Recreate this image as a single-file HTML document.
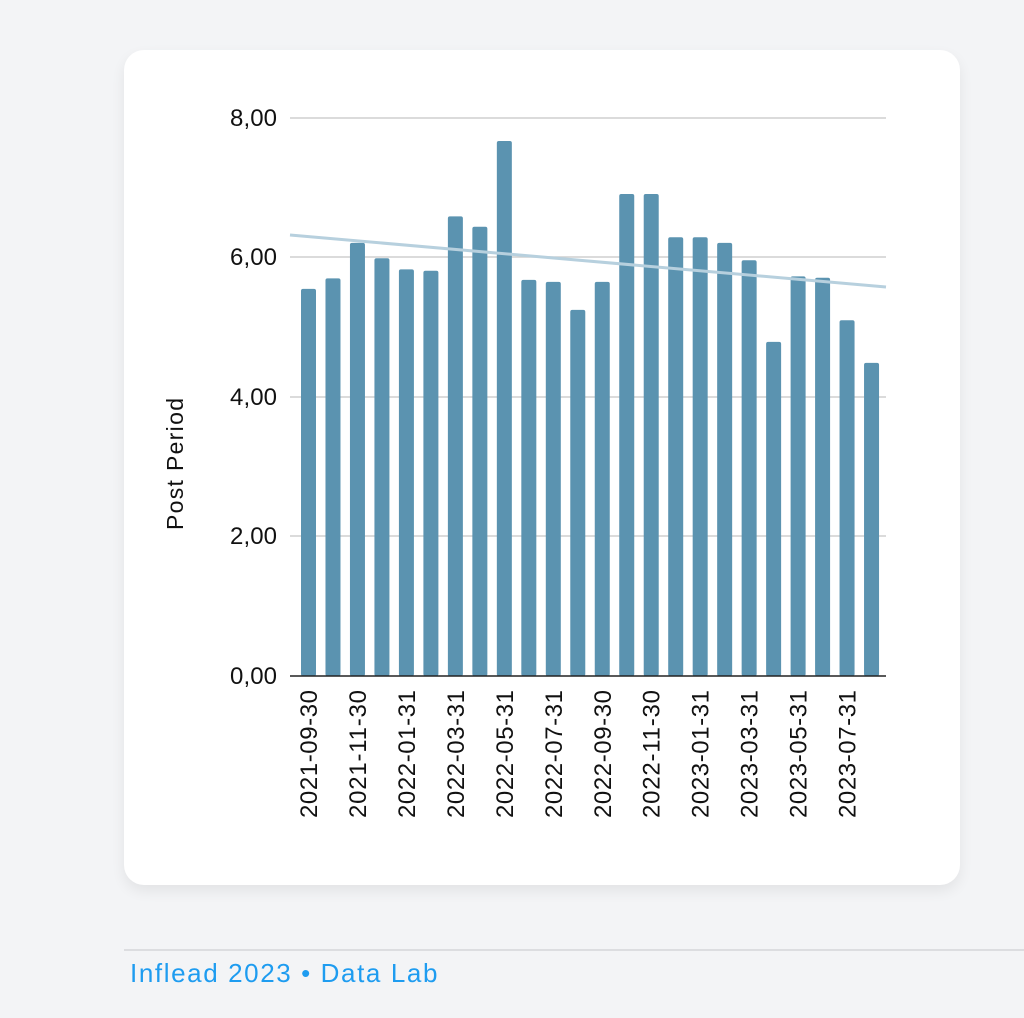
<!DOCTYPE html>
<html><head><meta charset="utf-8"><style>
html,body{margin:0;padding:0;background:#f3f4f6;}
body{width:1024px;height:1018px;position:relative;overflow:hidden;font-family:"Liberation Sans",Arial,sans-serif;}
.card{position:absolute;left:124px;top:50px;width:836px;height:835px;background:#fff;border-radius:20px;box-shadow:0 6px 14px rgba(0,0,0,0.07);}
.rule{position:absolute;left:124px;top:949px;width:900px;height:2px;background:#dcdde0;}
.foot{position:absolute;left:130px;top:958px;font-size:26px;color:#1e9cf0;letter-spacing:1.6px;}
svg{position:absolute;left:0;top:0;}
</style></head><body>
<div class="card"></div>
<div class="rule"></div>
<div class="foot">Inflead 2023 • Data Lab</div>
<svg width="1024" height="1018" font-family="Liberation Sans, Arial, sans-serif">
<g stroke="#cfcfcf" stroke-width="1.5">
<line x1="290" y1="118" x2="886" y2="118"/>
<line x1="290" y1="257" x2="886" y2="257"/>
<line x1="290" y1="397" x2="886" y2="397"/>
<line x1="290" y1="536" x2="886" y2="536"/>
</g>
<g font-size="24" fill="#111" text-anchor="end">
<text x="277" y="126" textLength="47">8,00</text>
<text x="277" y="265" textLength="47">6,00</text>
<text x="277" y="405" textLength="47">4,00</text>
<text x="277" y="544" textLength="47">2,00</text>
<text x="277" y="684" textLength="47">0,00</text>
</g>
<text transform="translate(183,464) rotate(-90)" font-size="23" fill="#111" text-anchor="middle" textLength="132">Post Period</text>
<g fill="#5b93b0" id="bars"></g>
<line x1="290" y1="235" x2="886" y2="287" stroke="#b7d0de" stroke-width="3"/>
<line x1="290" y1="676" x2="886" y2="676" stroke="#222" stroke-width="1.5"/>
<g id="labels" font-size="24" fill="#111"></g>
</svg>
<script>
var v=[5.55,5.70,6.21,5.99,5.83,5.81,6.59,6.44,7.67,5.68,5.65,5.25,5.65,6.91,6.91,6.29,6.29,6.21,5.96,4.79,5.73,5.71,5.10,4.49];
var lab=["2021-09-30","2021-11-30","2022-01-31","2022-03-31","2022-05-31","2022-07-31","2022-09-30","2022-11-30","2023-01-31","2023-03-31","2023-05-31","2023-07-31"];
var ns="http://www.w3.org/2000/svg",b=document.getElementById("bars"),l=document.getElementById("labels");
v.forEach(function(d,i){var cx=308.5+i*24.48,h=d*69.75;var r=document.createElementNS(ns,"rect");
r.setAttribute("x",cx-7.5);r.setAttribute("y",676-h);r.setAttribute("width",15);r.setAttribute("height",h);r.setAttribute("rx",2);b.appendChild(r);
if(i%2==0){var t=document.createElementNS(ns,"text");t.setAttribute("transform","translate("+(cx+8.5)+",690) rotate(-90)");t.setAttribute("text-anchor","end");t.setAttribute("textLength","128");t.textContent=lab[i/2];l.appendChild(t);}});
</script>
</body></html>
